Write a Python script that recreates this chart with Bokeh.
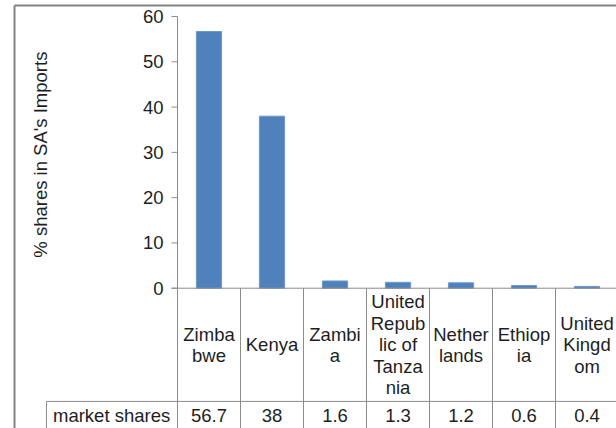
from math import pi
from bokeh.plotting import figure
from bokeh.models import Range1d
from bokeh.embed import file_html
from bokeh.resources import INLINE
from bokeh.core.properties import value

# ---- data ----
countries = ["Zimbabwe", "Kenya", "Zambia", "United Republic of Tanzania",
             "Netherlands", "Ethiopia", "United Kingdom"]
tick_labels = ["Zimba\nbwe", "Kenya", "Zambi\na", "United\nRepub\nlic of\nTanza\nnia",
               "Nether\nlands", "Ethiop\nia", "United\nKingd\nom"]
shares = [56.7, 38, 1.6, 1.3, 1.2, 0.6, 0.4]
share_labels = ["56.7", "38", "1.6", "1.3", "1.2", "0.6", "0.4"]
y_ticks = [0, 10, 20, 30, 40, 50, 60]
series_name = "market shares"
y_title = "% shares in SA's Imports"

# ---- styling ----
FONT = value("Liberation Sans")
FS = "18.5px"
TXT = "#1e1e1e"
GRID = "#8c8c8c"
BORDER = "#828282"
BAR = "#4F81BD"

n = len(countries)
xc = [i + 0.5 for i in range(n)]

p = figure(width=616, height=428, x_range=Range1d(-2.8095, 6.968),
           y_range=Range1d(-30.98, 63.54), x_axis_type=None, y_axis_type=None,
           toolbar_location=None, output_backend="svg", min_border=0,
           outline_line_color=None)
p.background_fill_color = "white"
p.border_fill_color = "white"

# bars
p.vbar(x=xc, top=shares, bottom=0, width=0.4, fill_color=BAR, line_color="#6f97c9", line_width=1)

# y axis
top = y_ticks[-1]
p.segment(x0=[0], y0=[0], x1=[0], y1=[top], line_color=GRID, line_width=1)
p.segment(x0=[-0.095] * len(y_ticks), y0=y_ticks, x1=[0] * len(y_ticks), y1=y_ticks,
          line_color=GRID, line_width=1)
p.text(x=[-0.22] * len(y_ticks), y=y_ticks, text=[str(t) for t in y_ticks],
       text_align="right", text_baseline="middle", text_font=FONT,
       text_font_size=FS, text_color=TXT)

# axis title
p.text(x=[-2.175], y=[top / 2 - 0.5], text=[y_title], angle=pi / 2,
       text_align="center", text_baseline="middle", text_font=FONT,
       text_font_size=FS, text_color=TXT)

# data table
row1_bottom = -25.0
val_y = -28.1
low = -35
right = n + 1
p.segment(x0=[-0.095, -2.08], y0=[0, row1_bottom], x1=[right, right], y1=[0, row1_bottom],
          line_color=GRID, line_width=1)
p.segment(x0=list(range(n + 1)), y0=[0] * (n + 1), x1=list(range(n + 1)), y1=[low] * (n + 1),
          line_color=GRID, line_width=1)
p.segment(x0=[-2.08], y0=[row1_bottom], x1=[-2.08], y1=[low], line_color=GRID, line_width=1)

p.text(x=xc, y=[row1_bottom / 2] * n, text=tick_labels, text_align="center",
       text_baseline="middle", text_font=FONT, text_font_size=FS, text_color=TXT,
       text_line_height=1.02)
p.text(x=xc, y=[val_y] * n, text=share_labels, text_align="center",
       text_baseline="middle", text_font=FONT, text_font_size=FS, text_color=TXT)
p.text(x=[-1.976], y=[val_y], text=[series_name], text_align="left",
       text_baseline="middle", text_font=FONT, text_font_size=FS, text_color=TXT)

# outer chart border
p.segment(x0=[-2.587, -2.587], y0=[62.43, 62.43], x1=[-2.587, right], y1=[low, 62.43],
          line_color=BORDER, line_width=2)

open("out.html", "w").write(file_html(p, INLINE))
